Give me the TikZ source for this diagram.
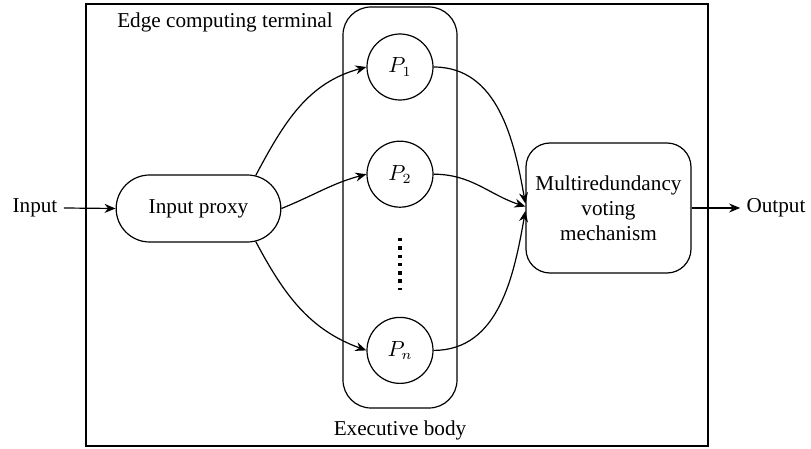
\documentclass[tikz,border=0pt]{standalone}
\usepackage{fontspec}
\setmainfont{Liberation Serif}
\usetikzlibrary{arrows.meta,positioning,calc,shapes.misc}
\tikzset{
  lbl/.style={font=\fontsize{10.6}{12.5}\selectfont, inner sep=3pt},
  proxybox/.style={draw, rounded rectangle, line width=0.6pt, align=center,
    minimum width=89pt, minimum height=33.5pt, font=\fontsize{10.6}{12.5}\selectfont},
  votebox/.style={draw, rounded corners=12pt, line width=0.6pt, align=center,
    minimum width=82.5pt, minimum height=65pt, font=\fontsize{10.6}{12.5}\selectfont},
  bodybox/.style={draw, rounded corners=14pt, line width=0.6pt,
    minimum width=57pt, minimum height=200.5pt},
  procnode/.style={draw, circle, line width=0.6pt, minimum size=33pt, inner sep=0pt,
    font=\fontsize{10.6}{12.5}\selectfont},
  flowarr/.style={-{Stealth[length=5.5pt, width=4.5pt]}, line width=0.6pt},
  vdots/.style={line width=1.75pt, dash pattern=on 1.75pt off 2.4pt},
}
\begin{document}
\begin{tikzpicture}[x=0.5pt, y=-0.5pt]
  \useasboundingbox (0,0) rectangle (811,449);
  % edge computing terminal
  \draw[line width=0.7pt] (86,4) rectangle (708,446);
  \node[lbl] (edge) at (225,22) {Edge computing terminal};

  \node[lbl] (in) at (35,208) {Input};
  \node[proxybox] (proxy) at (198.5,208.5) {Input proxy};
  \draw[flowarr] (in.east) -- (proxy.west);

  % executive body
  \node[bodybox] (body) at (400,207.5) {};
  \node[procnode] (p1) at (400,67) {$P_1$};
  \node[procnode, below=20pt of p1] (p2) {$P_2$};
  \node[procnode, below=54.5pt of p2] (pn) {$P_n$};
  \coordinate (d1) at (400,238);
  \coordinate (d2) at (400,290);
  \draw[vdots] (d1) -- (d2);
  \node[lbl] (exec) at (400,430) {Executive body};

  \draw[flowarr] (proxy.30) to[out=62, in=195] (p1.west);
  \draw[flowarr] (proxy.east) to[out=22, in=195] (p2.west);
  \draw[flowarr] (proxy.-30) to[out=-62, in=160] (pn.west);

  \node[votebox] (vote) at (608.5,208) {Multiredundancy\\ voting\\ mechanism};
  \draw[flowarr] (p1.east) to[out=0, in=100] (vote.177);
  \draw[flowarr] (p2.east) to[out=0, in=162] (vote.179);
  \draw[flowarr] (pn.east) to[out=0, in=-100] (vote.182);

  \node[lbl] (out) at (776,208) {Output};
  \draw[flowarr] (vote.east) -- (out.west);
\end{tikzpicture}
\end{document}
